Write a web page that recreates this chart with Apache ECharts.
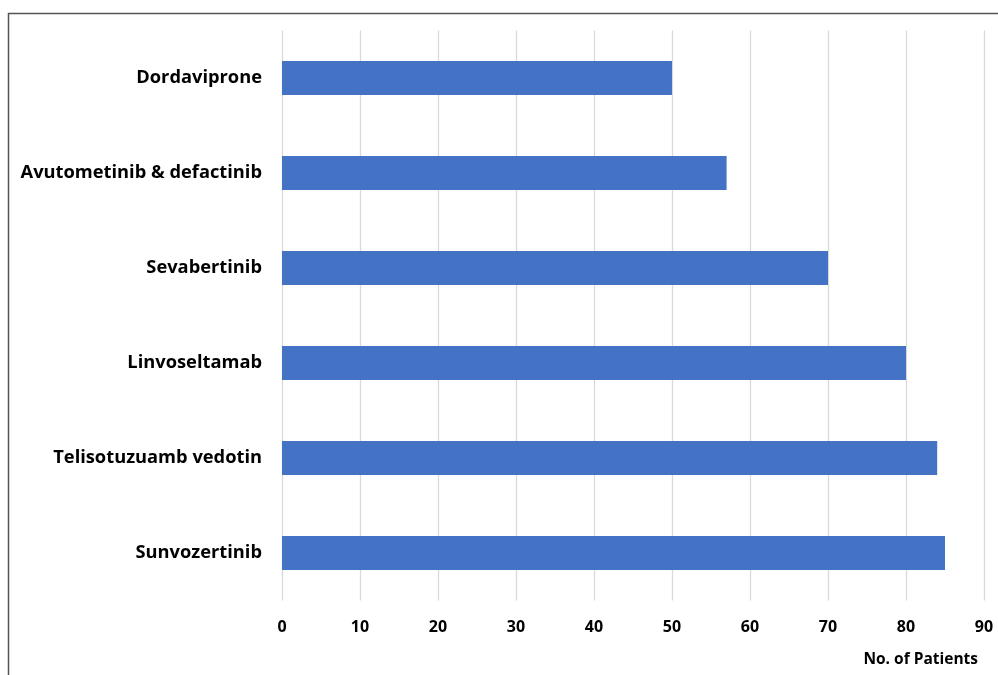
<!DOCTYPE html>
<html>
<head>
<meta charset="utf-8">
<script src="https://cdn.jsdelivr.net/npm/echarts@6/dist/echarts.min.js"></script>
<style>html,body{margin:0;padding:0;background:#fff}#c{width:998px;height:675px}</style>
</head>
<body>
<div id="c"></div>
<script>
const categories = ["Dordaviprone", "Avutometinib & defactinib", "Sevabertinib", "Linvoseltamab", "Telisotuzuamb vedotin", "Sunvozertinib"];
const patients = [50, 57, 70, 80, 84, 85];
const axisTitle = "No. of Patients";

const chart = echarts.init(document.getElementById('c'), null, {renderer: 'canvas'});
const font = '"Open Sans", "Noto Sans", sans-serif';
chart.setOption({
  animation: false,
  backgroundColor: '#fff',
  graphic: [{
    type: 'polyline',
    shape: {points: [[8.5, 700], [8.5, 13.5], [1010, 13.5]]},
    style: {stroke: '#555', lineWidth: 1.5, fill: null},
    silent: true
  }],
  title: {
    text: axisTitle,
    right: 15, top: 647,
    textStyle: {fontFamily: font, fontWeight: 'bold', fontSize: 15.5, color: '#000'}
  },
  grid: {left: 282, right: 14, top: 30.5, bottom: 74.5, containLabel: false},
  xAxis: {
    type: 'value', min: 0, max: 90, interval: 10,
    axisLine: {show: false}, axisTick: {show: false},
    splitLine: {show: true, lineStyle: {color: '#d9d9d9', width: 1.3}},
    axisLabel: {margin: 19, color: '#000', fontFamily: font, fontWeight: 'bold', fontSize: 16}
  },
  yAxis: {
    type: 'category', data: categories, inverse: true,
    axisLine: {show: false}, axisTick: {show: false},
    axisLabel: {margin: 20, color: '#000', fontFamily: font, fontWeight: 'bold', fontSize: 18.3}
  },
  series: [{
    type: 'bar', data: patients, barWidth: 34,
    itemStyle: {color: '#4472C4'}
  }]
});
</script>
</body>
</html>
